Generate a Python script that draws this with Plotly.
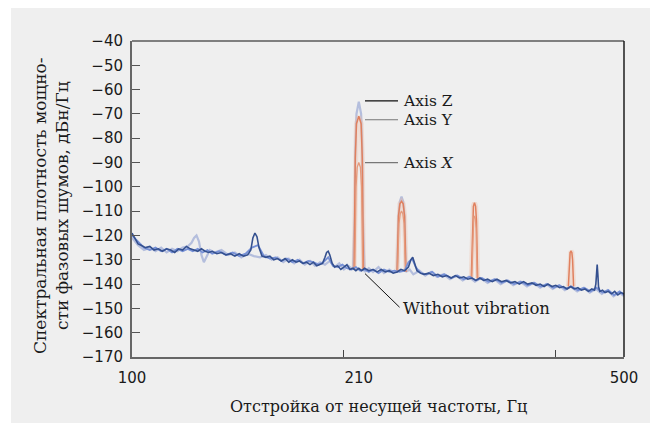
import math
import plotly.graph_objects as go

# ---------------- data ----------------
# "Without vibration" (dark blue)
f_wo = [100, 101, 102, 103, 104.5, 106, 107.5, 109, 110.5, 112,
        113.5, 115, 116.5, 118, 119.5, 121, 122.5, 124, 125.5, 127,
        128.5, 130, 132, 134, 136, 138, 140, 142, 144, 146,
        147.5, 148.5, 149.5, 150.5, 151.5, 153, 155, 157, 159, 161,
        163, 165, 167, 169, 171, 173, 175, 177, 179, 181,
        183, 185, 186.5, 188, 189, 190, 191, 192.5, 194, 196,
        198, 200, 202, 204, 206, 208, 210, 212, 214, 217,
        220, 223, 226, 229, 232, 235, 238, 241, 244, 247,
        249, 250.5, 252, 254, 257, 260, 264, 268, 272, 276,
        280, 284, 288, 292, 296, 300, 304, 308, 312, 316,
        320, 325, 330, 335, 340, 345, 350, 355, 360, 365,
        370, 375, 380, 385, 390, 395, 400, 405, 410, 415,
        420, 425, 430, 435, 440, 445, 450, 454, 456, 457,
        458, 459, 460, 462, 466, 470, 475, 480, 485, 490,
        495, 500]
v_wo = [-119, -121.5, -123.5, -124, -125, -124.5, -126, -125.5, -126.5, -125.5,
        -126, -127, -125.5, -126, -124.5, -125.5, -126, -126.5, -125.5, -126.5,
        -127, -126.5, -127.5, -127, -128, -127.5, -128.5, -127.5, -128.5, -128,
        -126, -121, -119, -120.5, -125, -128.5, -129, -128.5, -130, -129.5,
        -130.5, -129.5, -131, -130, -131, -130.5, -131.5, -131, -132, -131,
        -132.5, -132, -131.5, -129, -127, -126.5, -128, -131.5, -133, -132.5,
        -134, -133, -132, -134, -133.5, -134.5, -133.5, -134.5, -133.5, -134.5,
        -134, -135, -134, -135, -134.5, -135.5, -135, -134, -134.5, -133,
        -130, -129, -131.5, -134.5, -135.5, -136, -135.5, -136.5, -136, -137,
        -136.5, -137.5, -136.5, -137.5, -137, -138, -137.5, -138.5, -137.5, -138.5,
        -138, -139, -138, -139, -138.5, -139.5, -139, -140, -139, -140,
        -139.5, -140.5, -140, -141, -140, -141, -140.5, -141.5, -141, -142,
        -141, -142, -141.5, -142.5, -142, -143, -142, -142.5, -140, -135,
        -132, -136, -141, -143, -142.5, -143.5, -143, -144, -143, -144.5,
        -143.5, -144]

# Axis Z (light blue-grey)
f_z = [100, 102, 104, 106, 108, 110, 112, 114, 116, 118,
       120, 121.5, 122.5, 123.5, 124.5, 125.5, 126.5, 127.5, 129, 131,
       134, 137, 140, 143, 146, 149, 152, 155, 158, 161,
       164, 167, 170, 173, 176, 179, 182, 185, 188, 191,
       194, 197, 200, 203, 206, 207.2, 207.6, 208.4, 210, 211.6,
       212.4, 212.8, 214, 217, 220, 224, 228, 232, 235, 238,
       238.6, 239.1, 240.2, 241.5, 242.8, 243.9, 244.4, 245, 248, 251,
       256, 261, 266, 271, 277, 283, 289, 295, 301, 307,
       313, 320, 327, 334, 341, 348, 356, 364, 372, 380,
       388, 396, 404, 412, 420, 429, 438, 447, 456, 465,
       474, 483, 492, 500]
v_z = [-121, -124, -126, -125, -126.5, -125, -127, -125.5, -126.5, -125,
       -124.5, -123, -121, -120, -122.5, -128, -131, -129, -126, -127,
       -126, -128, -127, -129, -127.5, -128.5, -129, -128, -130, -129,
       -131, -129.5, -131.5, -130, -132, -130.5, -132.5, -131, -132, -130.5,
       -133, -131.5, -134, -132.5, -134, -112, -85, -70, -65, -70,
       -85, -112, -135, -133.5, -135, -133, -135.5, -134, -135, -135,
       -122, -112, -106, -104, -106, -112, -122, -135, -134, -136,
       -134.5, -136.5, -135, -137, -136, -138, -136.5, -138.5, -137, -139,
       -137.5, -139.5, -138, -140, -138.5, -140.5, -139, -141, -139.5, -141.5,
       -140, -142, -140.5, -142.5, -141, -143, -141.5, -143.5, -142, -144,
       -142.5, -145, -143.5, -145]

# noise floor of the axis measurements (medium blue)
f_fl = [100, 102, 104, 106, 108, 110, 112, 114, 116, 118,
        120, 122, 124, 126, 128, 130, 133, 136, 139, 142,
        145, 148, 151, 154, 157, 160, 163, 166, 169, 172,
        175, 178, 181, 184, 187, 190, 193, 196, 199, 202,
        205, 208, 211, 214, 217, 220, 224, 228, 232, 236,
        240, 244, 247, 250, 253, 257, 262, 267, 272, 278,
        284, 290, 296, 302, 308, 314, 321, 328, 335, 342,
        349, 357, 365, 373, 381, 389, 397, 405, 413, 421,
        430, 439, 448, 457, 466, 475, 484, 493, 500]
v_fl = [-120, -122.5, -125, -126, -125, -126.5, -125.5, -127, -125.5, -126.5,
        -125.5, -126.5, -125.5, -127, -126, -127.5, -126.5, -128, -127, -128.5,
        -127.5, -125, -124, -128.5, -129.5, -129, -130.5, -129.5, -131, -130,
        -131.5, -130.5, -131, -132, -131, -129, -132.5, -133, -132, -133.5,
        -134, -133, -134.5, -134, -135, -134, -135.5, -134, -135, -134.5,
        -135, -134.5, -131, -129.5, -133, -135.5, -136, -135, -137, -136,
        -137.5, -136.5, -138, -137, -138.5, -137.5, -139, -138, -139.5, -138.5,
        -140, -139, -140.5, -139.5, -141, -140, -141.5, -140.5, -142, -141,
        -142.5, -141.5, -143, -141.5, -143.5, -142.5, -144.5, -143, -144.5]

# Axis Y peaks (orange)
f_y = [206.8, 207.2, 207.6, 208.4, 210, 211.6, 212.4, 212.8, 213.2, 225,
       238, 238.6, 239.1, 240.2, 241.5, 242.8, 243.9, 244.4, 245, 275,
       303.4, 304.1, 304.6, 305.5, 306.6, 307.7, 308.6, 309.1, 309.8, 360,
       416.8, 417.6, 418.2, 419.2, 420.4, 421.6, 422.6, 423.2, 424]
v_y = [-134, -112, -88, -74, -71, -74, -88, -112, -134, None,
       -135, -122, -112, -107, -106, -107, -112, -122, -135, None,
       -137.5, -126, -114, -108, -106.5, -108, -114, -126, -137.5, None,
       -141, -136, -130, -127, -126.5, -127, -130, -136, -141]

# Axis X peaks (orange)
f_x = [207.3, 207.7, 208.1, 208.9, 210, 211.1, 211.9, 212.3, 212.7, 225,
       238.4, 239, 239.5, 240.5, 241.5, 242.5, 243.5, 244, 244.6, 275,
       303.9, 304.5, 305, 305.8, 306.6, 307.4, 308.2, 308.7, 309.3]
v_x = [-134, -118, -100, -92, -90, -92, -100, -118, -134, None,
       -135, -124, -115, -111, -110, -111, -115, -124, -135, None,
       -138, -128, -117, -113, -112, -113, -117, -128, -138]

x_label_vals = [100, 210, 500]
x_label_text = ["100", "210", "500"]
x_tick_marks = [200, 400]
y_tick_vals = list(range(-170, -39, 10))

# ---------------- figure ----------------
BG = "#efefef"
SERIF = "DejaVu Serif"
SANS = "DejaVu Sans"

fig = go.Figure()
fig.add_trace(go.Scatter(x=f_z, y=v_z, mode="lines", name="Axis Z",
                         line=dict(color="#b4bedd", width=2.2)))
fig.add_trace(go.Scatter(x=f_y, y=v_y, mode="lines", showlegend=False,
                         line=dict(color="rgba(240,185,160,0.35)", width=5)))
fig.add_trace(go.Scatter(x=f_y, y=v_y, mode="lines", name="Axis Y",
                         line=dict(color="#e0805e", width=1.5)))
fig.add_trace(go.Scatter(x=f_x, y=v_x, mode="lines", name="Axis X",
                         line=dict(color="#e59a7c", width=1.3)))
fig.add_trace(go.Scatter(x=f_fl, y=v_fl, mode="lines", name="Axes floor",
                         line=dict(color="#7690d6", width=1.8)))
fig.add_trace(go.Scatter(x=f_wo, y=v_wo, mode="lines", name="Without vibration",
                         line=dict(color="#34508f", width=1.6)))
# carrier for the labelled frequency axis (no visible marks)
fig.add_trace(go.Scatter(x=x_label_vals, y=[None] * len(x_label_vals),
                         xaxis="x2", mode="lines", showlegend=False,
                         hoverinfo="skip"))

# the page body adds an 8 px margin, so the figure is 8 px smaller
OFF = 8
W, H = 658 - OFF, 423 - OFF
# plot area in reference-picture pixels
PL, PR, PT, PB = 132, 624, 41, 357
ML, MR, MT, MB = PL - OFF, W - (PR - OFF), PT - OFF, H - (PB - OFF)
PW, PH = PR - PL, PB - PT


def px_x(p):
    return (p - PL) / PW


def px_y(p):
    return (PB - p) / PH


shapes = [
    dict(type="rect", xref="paper", yref="paper", layer="below",
         x0=px_x(11), x1=px_x(680), y0=px_y(440), y1=px_y(7),
         fillcolor=BG, line=dict(width=0)),
    dict(type="line", xref="paper", yref="paper", x0=0, x1=1, y0=1, y1=1,
         line=dict(color="#111", width=1.2)),
    dict(type="line", xref="paper", yref="paper", x0=1, x1=1, y0=0, y1=1,
         line=dict(color="#111", width=1.4)),
]

lx = math.log10(214.3)
ann_font = dict(family=SERIF, size=15.5, color="#1a1a1a")
title_font = dict(family=SERIF, size=16, color="#1a1a1a")
annotations = [
    dict(x=lx, y=-64.6, xref="x", yref="y", text="Axis Z", showarrow=True,
         ax=36, ay=0, xanchor="left", yanchor="middle", arrowhead=0,
         arrowwidth=1.2, arrowcolor="#111", startstandoff=3, font=ann_font),
    dict(x=lx, y=-72.4, xref="x", yref="y", text="Axis Y", showarrow=True,
         ax=36, ay=0, xanchor="left", yanchor="middle", arrowhead=0,
         arrowwidth=1.2, arrowcolor="#777", startstandoff=3, font=ann_font),
    dict(x=lx, y=-90, xref="x", yref="y", text="Axis <i>X</i>", showarrow=True,
         ax=36, ay=0, xanchor="left", yanchor="middle", arrowhead=0,
         arrowwidth=1.2, arrowcolor="#777", startstandoff=3, font=ann_font),
    dict(x=lx, y=-135.7, xref="x", yref="y", text="Without vibration",
         showarrow=True, ax=36, ay=35, xanchor="left", yanchor="middle",
         arrowhead=0, arrowwidth=1, arrowcolor="#111", startstandoff=2,
         font=dict(family=SERIF, size=16.5, color="#1a1a1a")),
    dict(x=0.5, y=px_y(406), xref="paper", yref="paper",
         text="Отстройка от несущей частоты, Гц", showarrow=False,
         xanchor="center", yanchor="middle", font=title_font),
    dict(x=px_x(51), y=px_y(206), xref="paper", yref="paper",
         text="Спектральная плотность мощно-<br>сти фазовых шумов, дБн/Гц",
         showarrow=False, textangle=-90, xanchor="center", yanchor="middle",
         font=dict(family=SERIF, size=17, color="#1a1a1a")),
]

xrange = [math.log10(100), math.log10(500)]
fig.update_layout(
    width=W, height=H,
    margin=dict(l=ML, r=MR, t=MT, b=MB, autoexpand=False),
    paper_bgcolor="white", plot_bgcolor=BG,
    showlegend=False,
    shapes=shapes, annotations=annotations,
    xaxis=dict(type="log", range=xrange,
               tickmode="array", tickvals=x_tick_marks,
               ticktext=["" for _ in x_tick_marks],
               ticks="inside", ticklen=7, tickwidth=1.2, tickcolor="#444",
               showgrid=False, zeroline=False,
               showline=True, linecolor="#666", linewidth=2),
    xaxis2=dict(type="log", range=xrange, overlaying="x", anchor="y",
                side="bottom", tickmode="array", tickvals=x_label_vals,
                ticktext=x_label_text, ticks="", showgrid=False,
                zeroline=False, showline=False,
                tickfont=dict(family=SANS, size=15, color="#1a1a1a"),
                ticklabelstandoff=10),
    yaxis=dict(range=[-170, -40], tickmode="array", tickvals=y_tick_vals,
               ticks="inside", ticklen=8, tickwidth=1.2, tickcolor="#555",
               showgrid=False, zeroline=False,
               showline=True, linecolor="#666", linewidth=2,
               tickfont=dict(family=SANS, size=15, color="#1a1a1a"),
               ticklabelstandoff=4),
)

fig.write_html("out.html")
